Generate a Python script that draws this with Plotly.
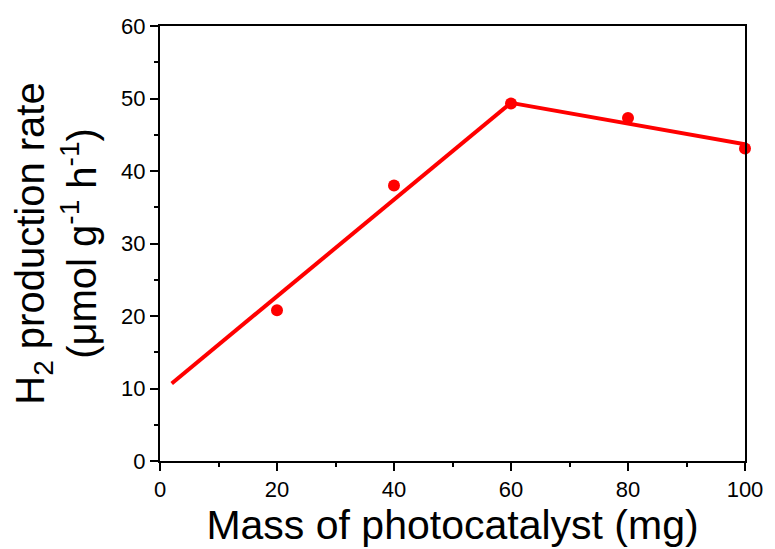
import plotly.graph_objects as go

mass_mg = [20, 40, 60, 80, 100]
rate = [20.8, 38.0, 49.3, 47.3, 43.1]

fit1_x = [2, 60]
fit1_y = [10.7, 49.4]
fit2_x = [60, 100]
fit2_y = [49.4, 43.7]

x_ticks = [0, 20, 40, 60, 80, 100]
y_ticks = [0, 10, 20, 30, 40, 50, 60]

RED = "#ff0000"
FONT = "Liberation Sans, Arial, sans-serif"

fig = go.Figure()
fig.add_trace(go.Scatter(x=fit1_x, y=fit1_y, mode="lines",
                         line=dict(color=RED, width=4), showlegend=False))
fig.add_trace(go.Scatter(x=fit2_x, y=fit2_y, mode="lines",
                         line=dict(color=RED, width=4), showlegend=False))
fig.add_trace(go.Scatter(x=mass_mg, y=rate, mode="markers",
                         marker=dict(color=RED, size=12), showlegend=False,
                         cliponaxis=False))

axis_common = dict(
    showgrid=False, zeroline=False, showline=True, linecolor="black",
    linewidth=2, mirror=True, ticks="outside", ticklen=8, tickwidth=2,
    tickcolor="black", tickfont=dict(family=FONT, size=22, color="black"),
)

fig.update_xaxes(range=[0, 100], tickvals=x_ticks,
                 minor=dict(ticks="outside", ticklen=4, tickwidth=2,
                            tickcolor="black", dtick=10, tick0=0),
                 title=dict(text="Mass of photocatalyst (mg)",
                            font=dict(family=FONT, size=41, color="black"),
                            standoff=5),
                 **axis_common)
fig.update_yaxes(range=[0, 60], tickvals=y_ticks,
                 minor=dict(ticks="outside", ticklen=4, tickwidth=2,
                            tickcolor="black", dtick=5, tick0=0),
                 title=dict(text="H<sub>2</sub> production rate<br>(μmol g<sup>-1</sup> h<sup>-1</sup>)",
                            font=dict(family=FONT, size=40, color="black"),
                            standoff=12),
                 **axis_common)

fig.update_layout(
    width=775, height=549,
    margin=dict(l=160, r=22, t=26, b=88),
    paper_bgcolor="white", plot_bgcolor="white",
)

fig.write_html("out.html")
